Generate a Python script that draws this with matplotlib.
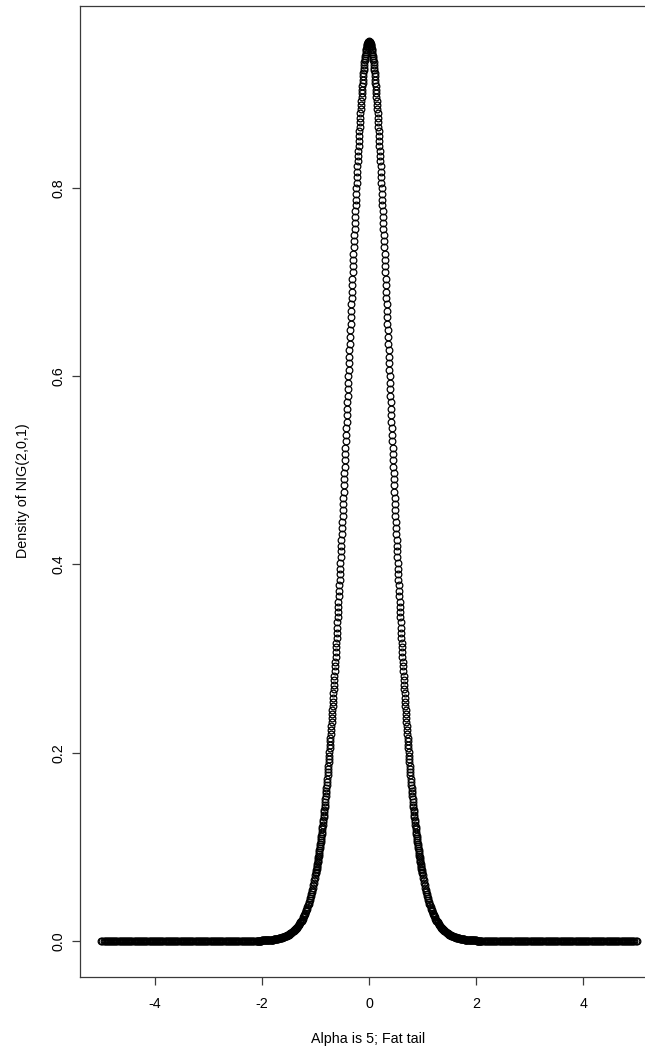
import numpy as np
import matplotlib
matplotlib.use("Agg")
import matplotlib.pyplot as plt


# ----- DATA -----
# centre of the curve, x = -1.000 ... 1.000, one value every 0.005
dens_mid = [
    0.0703, 0.0718, 0.0734, 0.0750, 0.0766, 0.0782, 0.0799, 0.0816, 0.0834, 0.0852,
    0.0870, 0.0888, 0.0907, 0.0926, 0.0946, 0.0966, 0.0986, 0.1007, 0.1028, 0.1049,
    0.1071, 0.1093, 0.1116, 0.1139, 0.1162, 0.1186, 0.1211, 0.1235, 0.1260, 0.1286,
    0.1312, 0.1338, 0.1365, 0.1393, 0.1421, 0.1449, 0.1478, 0.1507, 0.1537, 0.1567,
    0.1598, 0.1629, 0.1661, 0.1693, 0.1726, 0.1759, 0.1793, 0.1827, 0.1862, 0.1898,
    0.1934, 0.1970, 0.2007, 0.2045, 0.2083, 0.2122, 0.2161, 0.2201, 0.2241, 0.2282,
    0.2323, 0.2366, 0.2408, 0.2452, 0.2495, 0.2540, 0.2584, 0.2630, 0.2676, 0.2723,
    0.2770, 0.2818, 0.2866, 0.2916, 0.2965, 0.3016, 0.3066, 0.3118, 0.3169, 0.3222,
    0.3275, 0.3329, 0.3383, 0.3438, 0.3493, 0.3549, 0.3605, 0.3662, 0.3719, 0.3778,
    0.3836, 0.3896, 0.3955, 0.4016, 0.4076, 0.4137, 0.4198, 0.4261, 0.4323, 0.4386,
    0.4449, 0.4513, 0.4577, 0.4642, 0.4707, 0.4773, 0.4838, 0.4904, 0.4970, 0.5037,
    0.5104, 0.5172, 0.5239, 0.5307, 0.5375, 0.5444, 0.5513, 0.5582, 0.5650, 0.5720,
    0.5789, 0.5858, 0.5927, 0.5997, 0.6067, 0.6137, 0.6206, 0.6276, 0.6345, 0.6415,
    0.6484, 0.6553, 0.6622, 0.6691, 0.6760, 0.6829, 0.6897, 0.6965, 0.7033, 0.7100,
    0.7167, 0.7234, 0.7300, 0.7366, 0.7431, 0.7496, 0.7560, 0.7624, 0.7688, 0.7750,
    0.7812, 0.7873, 0.7934, 0.7994, 0.8053, 0.8112, 0.8170, 0.8226, 0.8282, 0.8337,
    0.8392, 0.8445, 0.8497, 0.8548, 0.8599, 0.8648, 0.8696, 0.8743, 0.8789, 0.8834,
    0.8878, 0.8920, 0.8962, 0.9002, 0.9041, 0.9078, 0.9114, 0.9149, 0.9183, 0.9215,
    0.9246, 0.9275, 0.9303, 0.9330, 0.9355, 0.9379, 0.9401, 0.9422, 0.9441, 0.9459,
    0.9475, 0.9490, 0.9503, 0.9515, 0.9525, 0.9534, 0.9541, 0.9546, 0.9550, 0.9552,
    0.9553,
    0.9552, 0.9550, 0.9546, 0.9541, 0.9534, 0.9525, 0.9515, 0.9503, 0.9490, 0.9475,
    0.9459, 0.9441, 0.9422, 0.9401, 0.9379, 0.9355, 0.9330, 0.9303, 0.9275, 0.9246,
    0.9215, 0.9183, 0.9149, 0.9114, 0.9078, 0.9041, 0.9002, 0.8962, 0.8920, 0.8878,
    0.8834, 0.8789, 0.8743, 0.8696, 0.8648, 0.8599, 0.8548, 0.8497, 0.8445, 0.8392,
    0.8337, 0.8282, 0.8226, 0.8170, 0.8112, 0.8053, 0.7994, 0.7934, 0.7873, 0.7812,
    0.7750, 0.7688, 0.7624, 0.7560, 0.7496, 0.7431, 0.7366, 0.7300, 0.7234, 0.7167,
    0.7100, 0.7033, 0.6965, 0.6897, 0.6829, 0.6760, 0.6691, 0.6622, 0.6553, 0.6484,
    0.6415, 0.6345, 0.6276, 0.6206, 0.6137, 0.6067, 0.5997, 0.5927, 0.5858, 0.5789,
    0.5720, 0.5650, 0.5582, 0.5513, 0.5444, 0.5375, 0.5307, 0.5239, 0.5172, 0.5104,
    0.5037, 0.4970, 0.4904, 0.4838, 0.4773, 0.4707, 0.4642, 0.4577, 0.4513, 0.4449,
    0.4386, 0.4323, 0.4261, 0.4198, 0.4137, 0.4076, 0.4016, 0.3955, 0.3896, 0.3836,
    0.3778, 0.3719, 0.3662, 0.3605, 0.3549, 0.3493, 0.3438, 0.3383, 0.3329, 0.3275,
    0.3222, 0.3169, 0.3118, 0.3066, 0.3016, 0.2965, 0.2916, 0.2866, 0.2818, 0.2770,
    0.2723, 0.2676, 0.2630, 0.2584, 0.2540, 0.2495, 0.2452, 0.2408, 0.2366, 0.2323,
    0.2282, 0.2241, 0.2201, 0.2161, 0.2122, 0.2083, 0.2045, 0.2007, 0.1970, 0.1934,
    0.1898, 0.1862, 0.1827, 0.1793, 0.1759, 0.1726, 0.1693, 0.1661, 0.1629, 0.1598,
    0.1567, 0.1537, 0.1507, 0.1478, 0.1449, 0.1421, 0.1393, 0.1365, 0.1338, 0.1312,
    0.1286, 0.1260, 0.1235, 0.1211, 0.1186, 0.1162, 0.1139, 0.1116, 0.1093, 0.1071,
    0.1049, 0.1028, 0.1007, 0.0986, 0.0966, 0.0946, 0.0926, 0.0907, 0.0888, 0.0870,
    0.0852, 0.0834, 0.0816, 0.0799, 0.0782, 0.0766, 0.0750, 0.0734, 0.0718, 0.0703,
]

# shoulders, one value every 0.01
# left: x = -2.10 ... -1.01
shoulder_left = [
    0.0003, 0.0004, 0.0004, 0.0004, 0.0004, 0.0004, 0.0005, 0.0005, 0.0005, 0.0005,
    0.0006, 0.0006, 0.0006, 0.0007, 0.0007, 0.0007, 0.0008, 0.0008, 0.0009, 0.0009,
    0.0009, 0.0010, 0.0010, 0.0011, 0.0012, 0.0012, 0.0013, 0.0013, 0.0014, 0.0015,
    0.0016, 0.0016, 0.0017, 0.0018, 0.0019, 0.0020, 0.0021, 0.0022, 0.0023, 0.0025,
    0.0026, 0.0027, 0.0029, 0.0030, 0.0032, 0.0033, 0.0035, 0.0037, 0.0038, 0.0040,
    0.0042, 0.0045, 0.0047, 0.0049, 0.0052, 0.0054, 0.0057, 0.0060, 0.0063, 0.0066,
    0.0069, 0.0073, 0.0076, 0.0080, 0.0084, 0.0088, 0.0093, 0.0097, 0.0102, 0.0107,
    0.0112, 0.0118, 0.0124, 0.0130, 0.0136, 0.0143, 0.0150, 0.0157, 0.0164, 0.0172,
    0.0181, 0.0189, 0.0198, 0.0208, 0.0218, 0.0228, 0.0239, 0.0250, 0.0262, 0.0275,
    0.0288, 0.0301, 0.0315, 0.0330, 0.0345, 0.0362, 0.0378, 0.0396, 0.0414, 0.0433,
    0.0453, 0.0473, 0.0495, 0.0517, 0.0541, 0.0565, 0.0590, 0.0617, 0.0644, 0.0673,
]
# right: x = 1.01 ... 2.10
shoulder_right = [
    0.0673, 0.0644, 0.0617, 0.0590, 0.0565, 0.0541, 0.0517, 0.0495, 0.0473, 0.0453,
    0.0433, 0.0414, 0.0396, 0.0378, 0.0362, 0.0345, 0.0330, 0.0315, 0.0301, 0.0288,
    0.0275, 0.0262, 0.0250, 0.0239, 0.0228, 0.0218, 0.0208, 0.0198, 0.0189, 0.0181,
    0.0172, 0.0164, 0.0157, 0.0150, 0.0143, 0.0136, 0.0130, 0.0124, 0.0118, 0.0112,
    0.0107, 0.0102, 0.0097, 0.0093, 0.0088, 0.0084, 0.0080, 0.0076, 0.0073, 0.0069,
    0.0066, 0.0063, 0.0060, 0.0057, 0.0054, 0.0052, 0.0049, 0.0047, 0.0045, 0.0042,
    0.0040, 0.0038, 0.0037, 0.0035, 0.0033, 0.0032, 0.0030, 0.0029, 0.0027, 0.0026,
    0.0025, 0.0023, 0.0022, 0.0021, 0.0020, 0.0019, 0.0018, 0.0017, 0.0016, 0.0016,
    0.0015, 0.0014, 0.0013, 0.0013, 0.0012, 0.0012, 0.0011, 0.0010, 0.0010, 0.0009,
    0.0009, 0.0009, 0.0008, 0.0008, 0.0007, 0.0007, 0.0007, 0.0006, 0.0006, 0.0006,
    0.0005, 0.0005, 0.0005, 0.0005, 0.0004, 0.0004, 0.0004, 0.0004, 0.0004, 0.0003,
]

# flat tails, one value every 0.02
# left: x = -5.00 ... -2.12
tail_left = [
    0.0, 0.0, 0.0, 0.0, 0.0, 0.0, 0.0, 0.0, 0.0, 0.0, 0.0, 0.0, 0.0, 0.0, 0.0, 0.0, 0.0, 0.0, 0.0, 0.0,
    0.0, 0.0, 0.0, 0.0, 0.0, 0.0, 0.0, 0.0, 0.0, 0.0, 0.0, 0.0, 0.0, 0.0, 0.0, 0.0, 0.0, 0.0, 0.0, 0.0,
    0.0, 0.0, 0.0, 0.0, 0.0, 0.0, 0.0, 0.0, 0.0, 0.0, 0.0, 0.0, 0.0, 0.0, 0.0, 0.0, 0.0, 0.0, 0.0, 0.0,
    0.0, 0.0, 0.0, 0.0, 0.0, 0.0, 0.0, 0.0, 0.0, 0.0, 0.0, 0.0, 0.0, 0.0, 0.0, 0.0, 0.0, 0.0, 0.0, 0.0,
    0.0, 0.0, 0.0, 0.0, 0.0, 0.0, 0.0, 0.0, 0.0, 0.0, 0.0, 0.0, 0.0, 0.0, 0.0, 0.0, 0.0, 0.0, 0.0, 0.0,
    0.0, 0.0, 0.0, 0.0, 0.0, 0.0, 0.0, 0.0, 0.0, 0.0, 0.0, 0.0, 0.0, 0.0, 0.0, 0.0, 0.0, 0.0, 0.0, 0.0,
    0.0, 0.0, 0.0, 0.0, 0.0, 0.0, 0.0,
    0.0001, 0.0001, 0.0001, 0.0001, 0.0001, 0.0001, 0.0001, 0.0001, 0.0001, 0.0001,
    0.0002, 0.0002, 0.0002, 0.0002, 0.0002,
    0.0003, 0.0003, 0.0003,
]
# right: x = 2.12 ... 5.00
tail_right = [
    0.0003, 0.0003, 0.0003,
    0.0002, 0.0002, 0.0002, 0.0002, 0.0002,
    0.0001, 0.0001, 0.0001, 0.0001, 0.0001, 0.0001, 0.0001, 0.0001, 0.0001, 0.0001,
    0.0, 0.0, 0.0, 0.0, 0.0, 0.0, 0.0, 0.0, 0.0, 0.0, 0.0, 0.0, 0.0, 0.0, 0.0, 0.0, 0.0, 0.0, 0.0, 0.0,
    0.0, 0.0, 0.0, 0.0, 0.0, 0.0, 0.0, 0.0, 0.0, 0.0, 0.0, 0.0, 0.0, 0.0, 0.0, 0.0, 0.0, 0.0, 0.0, 0.0,
    0.0, 0.0, 0.0, 0.0, 0.0, 0.0, 0.0, 0.0, 0.0, 0.0, 0.0, 0.0, 0.0, 0.0, 0.0, 0.0, 0.0, 0.0, 0.0, 0.0,
    0.0, 0.0, 0.0, 0.0, 0.0, 0.0, 0.0, 0.0, 0.0, 0.0, 0.0, 0.0, 0.0, 0.0, 0.0, 0.0, 0.0, 0.0, 0.0, 0.0,
    0.0, 0.0, 0.0, 0.0, 0.0, 0.0, 0.0, 0.0, 0.0, 0.0, 0.0, 0.0, 0.0, 0.0, 0.0, 0.0, 0.0, 0.0, 0.0, 0.0,
    0.0, 0.0, 0.0, 0.0, 0.0, 0.0, 0.0, 0.0, 0.0, 0.0, 0.0, 0.0, 0.0, 0.0, 0.0, 0.0, 0.0, 0.0, 0.0, 0.0,
    0.0, 0.0, 0.0, 0.0, 0.0, 0.0, 0.0,
]

x_ticks = [-4, -2, 0, 2, 4]
y_ticks = [0.0, 0.2, 0.4, 0.6, 0.8]
y_tick_labels = ["0.0", "0.2", "0.4", "0.6", "0.8"]
x_label = "Alpha is 5; Fat tail"
y_label = "Density of NIG(2,0,1)"

# evenly spaced x positions the values were read at, piece by piece
x = np.concatenate([
    np.linspace(-5.00, -2.12, len(tail_left)),
    np.linspace(-2.10, -1.01, len(shoulder_left)),
    np.linspace(-1.00, 1.00, len(dens_mid)),
    np.linspace(1.01, 2.10, len(shoulder_right)),
    np.linspace(2.12, 5.00, len(tail_right)),
])
y = np.concatenate([tail_left, shoulder_left, dens_mid, shoulder_right, tail_right])


# ----- PLOT -----
W, H = 645, 1048
plt.rcParams["font.family"] = ["Liberation Sans", "DejaVu Sans"]
AXC = "#3a3a3a"

fig = plt.figure(figsize=(W / 100, H / 100), dpi=100)
# R style box: right side runs past the picture edge
ax = fig.add_axes([80 / W, (H - 977) / H, 578 / W, 971.5 / H])

ax.plot(x, y, "o", mfc="none", mec="black", ms=4.8, mew=0.9)

ax.set_xlim(-5.4, 5.4)
ax.set_ylim(-0.0382, 0.9935)

ax.set_xticks(x_ticks)
ax.set_xticklabels([str(t) for t in x_ticks])
ax.set_yticks(y_ticks)
ax.set_yticklabels(y_tick_labels, rotation=90, va="center")

for s in ax.spines.values():
    s.set_color(AXC)
    s.set_linewidth(0.9)

ax.tick_params(axis="both", direction="out", length=5.5, width=0.9,
               color=AXC, labelsize=10.3, labelcolor="black")
ax.tick_params(axis="x", pad=9)
ax.tick_params(axis="y", pad=4.8)

fig.text(368 / W, 1 - 1042.7 / H, x_label, ha="center", va="baseline",
         fontsize=10.3)
fig.text(23.3 / W, 1 - 491 / H, y_label, ha="center", va="center",
         rotation=90, fontsize=10.3)

fig.savefig("out.png", dpi=100)
